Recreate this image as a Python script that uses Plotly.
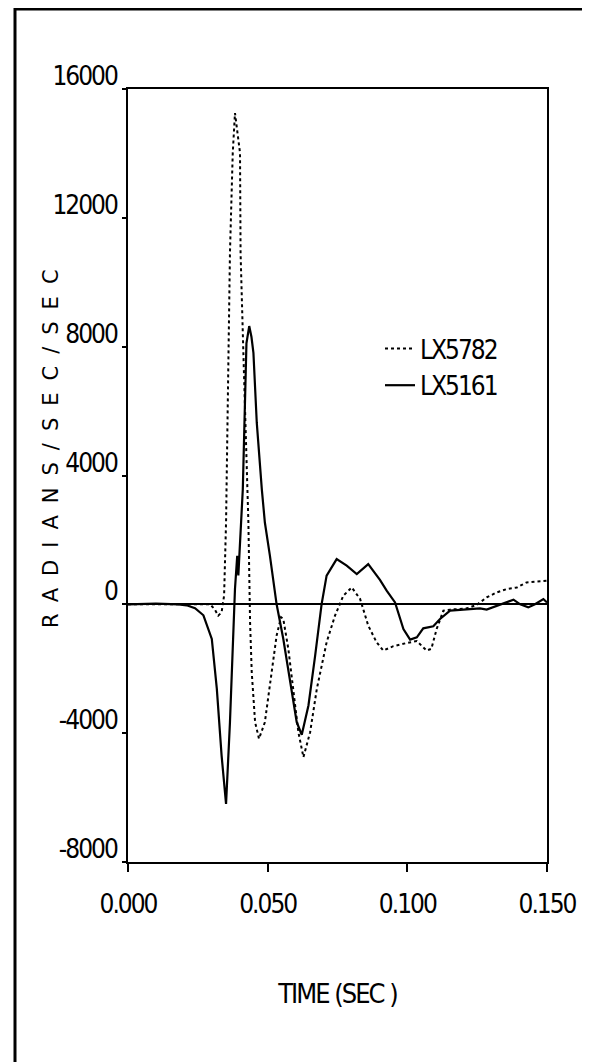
import plotly.graph_objects as go

# ---- data ----
t_lx5161 = [0, 0.010, 0.018, 0.021, 0.024, 0.027, 0.030, 0.0318, 0.0335, 0.0351, 0.0365,
            0.0377, 0.0383, 0.0391, 0.0395, 0.0411, 0.0418, 0.0424, 0.0434, 0.0442, 0.0449,
            0.0461, 0.0479, 0.049, 0.0508, 0.0532, 0.0556, 0.058, 0.0604, 0.0622, 0.0646,
            0.067, 0.0693, 0.0711, 0.0747, 0.0783, 0.0819, 0.086, 0.0902, 0.0926, 0.0956,
            0.0986, 0.101, 0.1034, 0.1057, 0.1093, 0.1117, 0.1153, 0.1213, 0.126, 0.1284,
            0.1332, 0.138, 0.1404, 0.1433, 0.1457, 0.1487, 0.150]
y_lx5161 = [0, 20, 0, -30, -120, -340, -1075, -2625, -4690, -6200, -3660,
            -560, 475, 1510, 900, 3575, 5800, 8100, 8640, 8300, 7810,
            5640, 3575, 2540, 1510, 0, -1075, -2420, -3660, -4050, -3140,
            -1590, 0, 890, 1405, 1200, 940, 1250, 760, 425, 60,
            -765, -1095, -1025, -745, -680, -455, -195, -165, -125, -165,
            0, 145, 0, -95, 5, 165, 60]

t_lx5782 = [0, 0.010, 0.020, 0.0294, 0.031, 0.0323, 0.0335, 0.0344, 0.0351, 0.0357, 0.0365,
            0.0375, 0.0383, 0.0401, 0.0403, 0.0413, 0.0425, 0.0431, 0.0437, 0.0443, 0.0455,
            0.0469, 0.049, 0.0514, 0.0532, 0.0548, 0.0556, 0.0574, 0.0592, 0.061, 0.0628,
            0.0652, 0.0676, 0.0711, 0.0741, 0.0771, 0.0801, 0.0831, 0.086, 0.089, 0.0914,
            0.095, 0.0998, 0.1034, 0.1069, 0.1086, 0.1105, 0.1129, 0.1153, 0.1213, 0.1248,
            0.1284, 0.132, 0.1356, 0.1392, 0.1427, 0.1463, 0.150]
y_lx5782 = [0, 0, 0, 0, -150, -350, -250, 270, 2540, 5640, 10915,
            14015, 15255, 14015, 10915, 7815, 4710, 2540, -560, -2110, -3660,
            -4175, -3660, -2110, -970, -400, -455, -1385, -2625, -3970, -4745,
            -3970, -2625, -1180, -350, 270, 525, 165, -660, -1180, -1435,
            -1300, -1200, -1140, -1435, -1380, -765, -195, -165, -125, -20,
            215, 370, 475, 525, 680, 705, 730]

x_ticks = [0.0, 0.05, 0.10, 0.15]
x_tick_labels = ["0.000", "0.050", "0.100", "0.150"]
y_ticks = [-8000, -4000, 0, 4000, 8000, 12000, 16000]
y_tick_labels = ["-8000", "-4000", "0", "4000", "8000", "12000", "16000"]

FONT = "DejaVu Sans, Liberation Sans, Arial"
NARROW_STYLE = "font-stretch:condensed;letter-spacing:-2px"

def narrow(s):
    return f'<span style="{NARROW_STYLE}">{s}</span>'

fig = go.Figure()
fig.add_trace(go.Scatter(x=t_lx5782, y=y_lx5782, mode="lines", name=narrow("LX5782"),
                         line=dict(color="black", width=2, dash="dot")))
fig.add_trace(go.Scatter(x=t_lx5161, y=y_lx5161, mode="lines", name=narrow("LX5161"),
                         line=dict(color="black", width=2.2)))

OFF = 8  # page body margin
W, H = 590, 1062
L, T = 128 - OFF, 89 - OFF
R, B = W - (547 - OFF), H - (862 - OFF)
pw, ph = W - L - R, H - T - B

def px(xp):
    return (xp - OFF - L) / pw

def py(yp):
    return (H - B - (yp - OFF)) / ph

fig.update_layout(
    width=W, height=H,
    margin=dict(l=L, r=R, t=T, b=B),
    paper_bgcolor="white", plot_bgcolor="white",
    font=dict(family=FONT, color="black", size=22),
    showlegend=True,
    legend=dict(x=px(380), y=py(325), xanchor="left", yanchor="top",
                bgcolor="rgba(0,0,0,0)", font=dict(size=26, family=FONT),
                itemwidth=30, tracegroupgap=0),
    xaxis=dict(range=[0, 0.15], tickvals=x_ticks,
               ticktext=[narrow(s) for s in x_tick_labels],
               showline=True, linecolor="black", linewidth=2, mirror=True,
               ticks="outside", ticklen=8, tickwidth=2, tickcolor="black",
               showgrid=False, zeroline=False, ticklabelstandoff=10,
               tickfont=dict(size=26, family=FONT),
               title=dict(text=narrow("TIME (SEC )"), font=dict(size=27, family=FONT), standoff=66)),
    yaxis=dict(range=[-8000, 16000], tickvals=y_ticks,
               ticktext=[narrow(s) for s in y_tick_labels],
               showline=True, linecolor="black", linewidth=2, mirror=True,
               ticks="outside", ticklen=4, tickwidth=2, tickcolor="black",
               showgrid=False, zeroline=True, zerolinecolor="black", zerolinewidth=2,
               tickfont=dict(size=26, family=FONT), ticklabelshift=-13),
)

# y-axis title, widely spaced letters
fig.add_annotation(x=px(37), y=py(443), xref="paper", yref="paper",
                   text='<span style="letter-spacing:12px">RADIANS/SEC/SEC</span>',
                   textangle=-90, showarrow=False,
                   font=dict(size=21, family="DejaVu Sans, Liberation Sans", color="black"))

# outer frame (left, top, right)
fig.add_shape(type="path", xref="paper", yref="paper",
              path=f"M {px(15)} {py(1075)} L {px(15)} {py(9)} L {px(587)} {py(9)} L {px(587)} {py(730)}",
              line=dict(color="black", width=3))

fig.write_html("out.html")
